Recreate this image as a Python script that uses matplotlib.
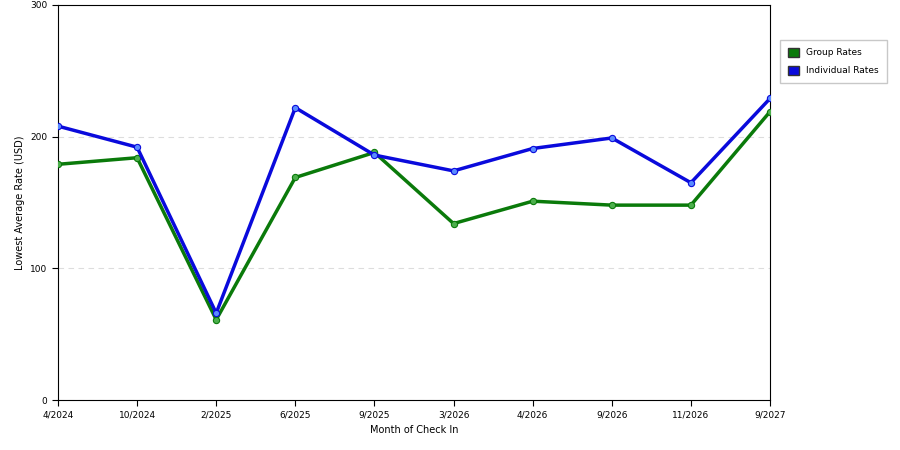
import matplotlib
matplotlib.use("Agg")
import matplotlib.pyplot as plt
from matplotlib.patches import Patch

months = ["4/2024","10/2024","2/2025","6/2025","9/2025","3/2026","4/2026","9/2026","11/2026","9/2027"]
group_rates = [179, 184, 61, 169, 188, 134, 151, 148, 148, 219]
individual_rates = [208, 192, 66, 222, 186, 174, 191, 199, 165, 229]

fig = plt.figure(figsize=(9, 4.5), dpi=100)
ax = fig.add_axes([0.0644, 0.111, 0.7912, 0.878])
x = list(range(len(months)))
ax.plot(x, group_rates, color="#0a7a0a", lw=2.5, marker="o", ms=4.5,
        mfc="#4caf4c", mec="#0a7a0a", mew=0.8, zorder=3)
ax.plot(x, individual_rates, color="#0a0adc", lw=2.5, marker="o", ms=4.5,
        mfc="#5a8cff", mec="#0a0adc", mew=0.8, zorder=3)
ax.set_xlim(0, len(months) - 1)
ax.set_ylim(0, 300)
ax.set_yticks([0, 100, 200, 300])
ax.set_xticks(x)
ax.set_xticklabels(months)
ax.tick_params(labelsize=6.5, length=4)
ax.yaxis.grid(True, ls=(0, (5, 4)), color="#dddddd", lw=0.8)
ax.set_axisbelow(True)
ax.set_xlabel("Month of Check In", fontsize=7)
ax.set_ylabel("Lowest Average Rate (USD)", fontsize=7)
for s in ax.spines.values():
    s.set_linewidth(0.8)
handles = [Patch(facecolor="#0a7a0a", edgecolor="#333333", label="Group Rates"),
           Patch(facecolor="#0a0adc", edgecolor="#333333", label="Individual Rates")]
fig.legend(handles=handles, loc="upper left", bbox_to_anchor=(0.862, 0.922),
           fontsize=6.5, frameon=True, fancybox=False, edgecolor="#bbbbbb",
           handlelength=1.2, handleheight=1.2, borderpad=0.9, labelspacing=0.9)
fig.savefig("out.png", dpi=100)
